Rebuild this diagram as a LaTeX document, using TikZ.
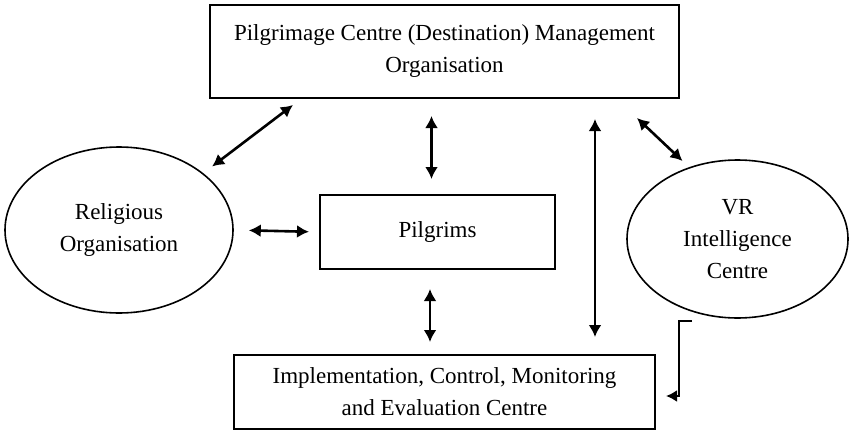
\documentclass[tikz,border=0pt]{standalone}
\usepackage{fontspec}
\setmainfont{Liberation Serif}
\usetikzlibrary{arrows.meta,shapes.geometric}

\tikzset{
  boxnode/.style={draw,line width=2pt,align=center,inner sep=0pt},
  ovalnode/.style={ellipse,draw,line width=1.6pt,align=center,inner sep=0pt},
  biarrow/.style={{Latex[length=12pt,width=13pt]}-{Latex[length=12pt,width=13pt]},line width=2.6pt},
  onearrow/.style={-{Latex[length=11pt,width=12pt]},line width=2.4pt},
}

\begin{document}
\begin{tikzpicture}[x=1pt,y=-1pt,font=\fontsize{23}{32}\selectfont]
  \useasboundingbox (0,0) rectangle (850,431);

  % boxes and ovals
  \node[boxnode,minimum width=469pt,minimum height=93pt] (top) at (444.5,51.5)
    {Pilgrimage Centre (Destination) Management\\Organisation};
  \node[ovalnode,minimum width=228pt,minimum height=166pt] (rel) at (119,230)
    {\raisebox{5pt}{Religious}\\\raisebox{5pt}{Organisation}};
  \node[boxnode,minimum width=235pt,minimum height=74pt] (pil) at (437.5,232)
    {\raisebox{5pt}{Pilgrims}};
  \node[ovalnode,minimum width=221pt,minimum height=158pt] (vr) at (737.5,239)
    {VR\\Intelligence\\Centre};
  \node[boxnode,minimum width=421pt,minimum height=74pt] (bot) at (444.5,392)
    {Implementation, Control, Monitoring\\and Evaluation Centre};

  % free ends of the slanted links
  \coordinate (relEnd) at (293,105);
  \coordinate (vrEnd) at (637,118);

  \draw[biarrow,shorten <=11pt] (rel.34) -- (relEnd);
  \draw[biarrow,shorten <=15pt,shorten >=10pt] (rel.east) -- (pil.west);
  \draw[biarrow,shorten <=17pt,shorten >=15pt] ([xshift=-13pt]top.south) -- ([xshift=-6pt]pil.north);
  \draw[biarrow,shorten <=19pt,shorten >=12pt] ([xshift=-7.5pt]pil.south) -- ([xshift=-14.5pt]bot.north);
  \draw[biarrow,shorten <=20pt,shorten >=17pt] ([xshift=150.5pt]top.south) -- ([xshift=150.5pt]bot.north);
  \draw[biarrow,shorten >=9pt] (vrEnd) -- (vr.124);
  \draw[onearrow,shorten >=10pt] ([xshift=-45.5pt,yshift=-2pt]vr.south) -- ++(-13,0) |- ([yshift=-4pt]bot.east);
\end{tikzpicture}
\end{document}
